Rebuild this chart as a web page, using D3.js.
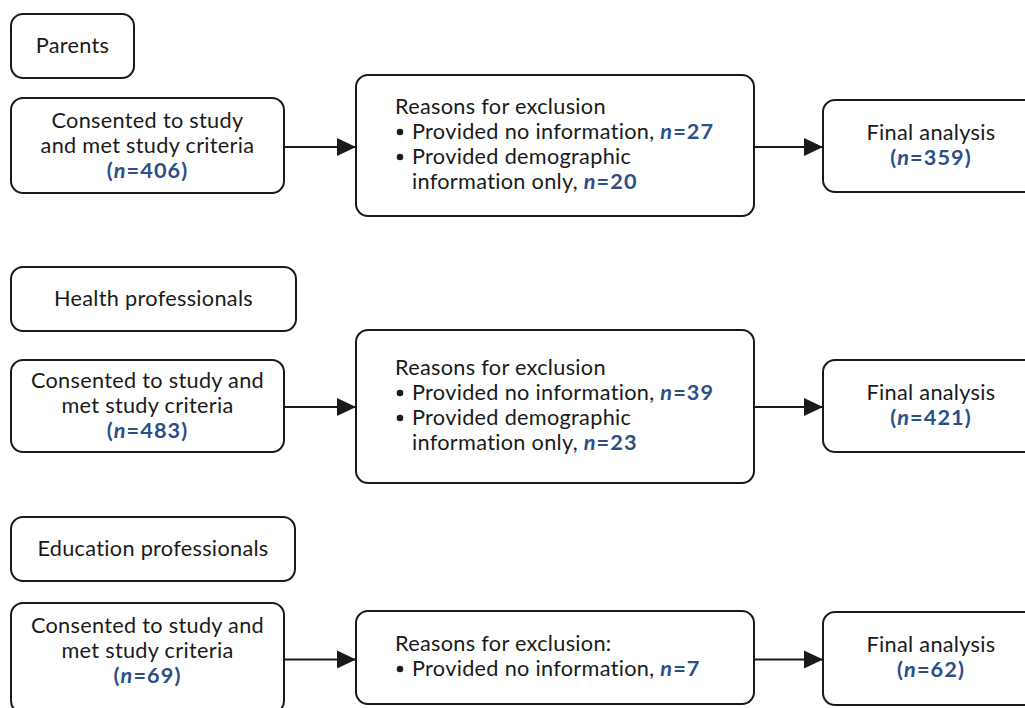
<!DOCTYPE html>
<html>
<head>
<meta charset="utf-8">
<script src="https://cdn.jsdelivr.net/npm/d3@7"></script>
<style>
  html, body { margin: 0; padding: 0; background: #fff; overflow: hidden; }
  text {
    font-family: Lato, "Open Sans", sans-serif;
    font-size: 21.7px;
    letter-spacing: 0.3px;
    font-variant-ligatures: none;
    font-feature-settings: "liga" 0, "clig" 0;
    fill: #1a1a1a;
  }
  tspan.count { letter-spacing: 1.1px; }
</style>
</head>
<body>
<div id="chart"></div>
<script>
// flow chart data
var groups = ["Parents", "Health professionals", "Education professionals"];
var consentedText = [
  ["Consented to study", "and met study criteria"],
  ["Consented to study and", "met study criteria"],
  ["Consented to study and", "met study criteria"]
];
var consentedN = [406, 483, 69];
var exclusionTitle = ["Reasons for exclusion", "Reasons for exclusion", "Reasons for exclusion:"];
var noInfoN = [27, 39, 7];
var demographicOnlyN = [20, 23, null];
var finalN = [359, 421, 62];

// layout (pixels), one entry per group
var labelTop = [14, 267, 517];
var consentTop = [98, 360, 603];
var consentBottom = [193, 452, 713];
var exclTop = [75, 330, 611];
var exclBottom = [216, 483, 704];
var finalTop = [100, 360, 612];
var finalBottom = [192, 452, 705];
var labelRight = [134, 296, 295];

var width = 1025;
var height = 708;
var blue = "#2b4f86";
var ink = "#1a1a1a";
var lineH = 25;

var svg = d3.select("#chart")
  .append("svg")
    .attr("width", width)
    .attr("height", height);

svg.append("defs")
  .append("marker")
    .attr("id", "arrow")
    .attr("markerUnits", "userSpaceOnUse")
    .attr("markerWidth", 19)
    .attr("markerHeight", 20)
    .attr("refX", 19)
    .attr("refY", 10)
    .attr("orient", "auto")
  .append("path")
    .attr("d", "M0,1 L19,10 L0,19 Z")
    .attr("fill", ink);

// the three columns of boxes
var col = {
  label: 11,
  consent: [11, 284],
  excl: [356, 754],
  final: [823, 1040]
};

function box(g, x0, x1, y0, y1) {
  g.append("rect")
    .attr("x", x0)
    .attr("y", y0)
    .attr("width", x1 - x0)
    .attr("height", y1 - y0)
    .attr("rx", 12)
    .attr("fill", "#fff")
    .attr("stroke", ink)
    .attr("stroke-width", 2);
}

// blue bold count, italic n
function nPart(prefix, value) {
  return [
    {t: prefix, c: blue, b: true},
    {t: "n", c: blue, b: true, i: true},
    {t: "=" + value, c: blue, b: true}
  ];
}

function line(g, x, y, anchor, segs) {
  var t = g.append("text")
    .attr("x", x)
    .attr("y", y)
    .attr("text-anchor", anchor);
  segs.forEach(function (s) {
    t.append("tspan")
      .attr("class", s.b ? "count" : null)
      .text(s.t)
      .style("fill", s.c || ink)
      .style("font-weight", s.b ? 700 : 400)
      .style("font-style", s.i ? "italic" : "normal");
  });
  return t;
}

groups.forEach(function (name, k) {
  var g = svg.append("g").attr("class", "group");

  // group label
  var ly0 = labelTop[k], ly1 = ly0 + 64;
  box(g, col.label, labelRight[k], ly0, ly1);
  line(g, (col.label + labelRight[k]) / 2, (ly0 + ly1) / 2 + 7, "middle", [{t: name}]);

  // consented box
  var cy0 = consentTop[k], cy1 = consentBottom[k];
  var cMid = (cy0 + Math.min(cy1, cy0 + 95)) / 2;
  box(g, col.consent[0], col.consent[1], cy0, cy1);
  var cx = (col.consent[0] + col.consent[1]) / 2;
  var cLines = consentedText[k].map(function (s) { return [{t: s}]; });
  cLines.push(nPart("(", consentedN[k] + ")"));
  cLines.forEach(function (segs, i) {
    line(g, cx, cMid + 7 + (i - 1) * lineH, "middle", segs);
  });

  // exclusion box
  var ey0 = exclTop[k], ey1 = exclBottom[k];
  box(g, col.excl[0], col.excl[1], ey0, ey1);
  var items = [];
  items.push({bullet: false, segs: [{t: exclusionTitle[k]}]});
  items.push({bullet: true, segs: [{t: "Provided no information, "}].concat(nPart("", noInfoN[k]))});
  if (demographicOnlyN[k] != null) {
    items.push({bullet: true, segs: [{t: "Provided demographic"}]});
    items.push({bullet: false, indent: true, segs: [{t: "information only, "}].concat(nPart("", demographicOnlyN[k]))});
  }
  var eMid = (ey0 + ey1) / 2 + 6;
  var first = eMid - (items.length - 1) * lineH / 2;
  items.forEach(function (it, i) {
    var y = first + i * lineH;
    var tx = col.excl[0] + 39;
    if (it.bullet) {
      g.append("circle")
        .attr("cx", tx + 5)
        .attr("cy", y - 7)
        .attr("r", 3.3)
        .attr("fill", ink);
    }
    if (it.bullet || it.indent) tx += 17;
    line(g, tx, y, "start", it.segs);
  });

  // final analysis box
  var fy0 = finalTop[k], fy1 = finalBottom[k];
  box(g, col.final[0], col.final[1], fy0, fy1);
  var fx = 931;
  var fMid = (fy0 + fy1) / 2 + 6;
  line(g, fx, fMid - lineH / 2, "middle", [{t: "Final analysis"}]);
  line(g, fx, fMid + lineH / 2, "middle", nPart("(", finalN[k] + ")"));

  // arrows
  var ay = (fy0 + fy1) / 2 + 1;
  g.append("line")
    .attr("x1", col.consent[1]).attr("x2", col.excl[0])
    .attr("y1", ay).attr("y2", ay)
    .attr("stroke", ink).attr("stroke-width", 2)
    .attr("marker-end", "url(#arrow)");
  g.append("line")
    .attr("x1", col.excl[1]).attr("x2", col.final[0])
    .attr("y1", ay).attr("y2", ay)
    .attr("stroke", ink).attr("stroke-width", 2)
    .attr("marker-end", "url(#arrow)");
});
</script>
</body>
</html>
